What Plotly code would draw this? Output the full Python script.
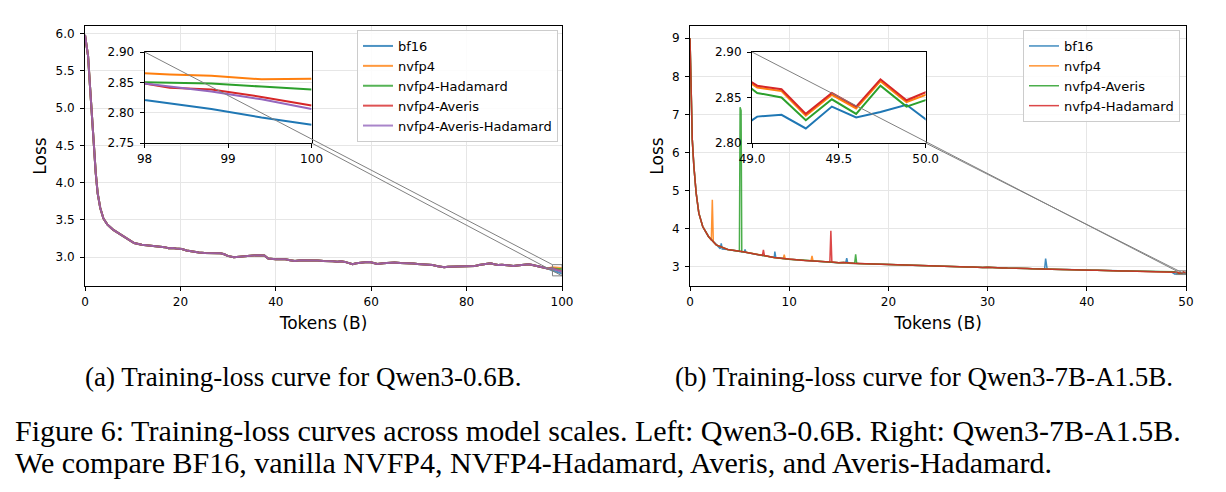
import plotly.graph_objects as go

# ---------------- DATA: left panel (Qwen3-0.6B) ----------------
left_tokens_shared = [0.0, 0.3, 0.64, 1.04, 1.45, 1.85, 2.25, 2.65, 3.2, 3.86, 4.66, 5.86, 7.07, 8.7,
                      10.3, 11.9, 13.1, 14.3, 15.1, 15.9, 16.7, 17.5, 18.3, 19.1, 20.3, 21.3, 22.3,
                      23.1, 23.9, 25.1, 26.3, 27.3, 28.4, 29.2, 29.9, 31.2, 32.4, 33.6, 34.8, 36.0,
                      37.6, 38.4, 40.0, 41.0, 42.0, 43.0, 44.0, 45.2, 46.4, 47.6, 48.8, 50.0, 51.2,
                      52.0, 52.9, 53.7, 54.5, 55.3, 56.1, 56.9, 57.7, 58.7, 59.7, 60.5, 61.3, 62.5,
                      63.7, 64.9, 66.1, 67.3, 68.1, 68.9, 69.7, 70.5, 71.3, 72.1, 72.9, 73.7, 74.5,
                      75.3, 76.1, 76.9, 77.7, 78.6, 79.4, 80.2, 81.0, 81.8, 82.6, 83.4, 84.2, 85.0,
                      85.8, 86.6, 87.4, 88.2, 89.0, 89.8, 90.6, 91.4, 92.2, 93.0, 93.8, 94.6, 95.4,
                      96.2, 97.0]
left_loss_shared = [5.98, 5.85, 5.70, 5.30, 4.89, 4.49, 4.13, 3.86, 3.66, 3.52, 3.44, 3.37, 3.32, 3.26,
                    3.19, 3.166, 3.16, 3.15, 3.145, 3.14, 3.135, 3.12, 3.125, 3.117, 3.11, 3.09, 3.076,
                    3.07, 3.063, 3.058, 3.054, 3.06, 3.054, 3.04, 3.018, 3.0, 3.005, 3.009, 3.02, 3.027,
                    3.022, 2.982, 2.973, 2.978, 2.973, 2.96, 2.95, 2.958, 2.96, 2.952, 2.955, 2.948, 2.95,
                    2.945, 2.94, 2.946, 2.937, 2.925, 2.906, 2.92, 2.928, 2.932, 2.937, 2.925, 2.91, 2.92,
                    2.925, 2.928, 2.922, 2.92, 2.925, 2.915, 2.91, 2.906, 2.91, 2.906, 2.895, 2.883, 2.87,
                    2.865, 2.872, 2.874, 2.878, 2.883, 2.876, 2.879, 2.885, 2.883, 2.895, 2.906, 2.912, 2.92,
                    2.905, 2.897, 2.9, 2.892, 2.888, 2.883, 2.888, 2.892, 2.9, 2.906, 2.895, 2.883, 2.868,
                    2.855, 2.85]
left_tail_tokens = [98.0, 98.3, 98.8, 99.4, 100.0]
left_names = ["bf16", "nvfp4", "nvfp4-Hadamard", "nvfp4-Averis", "nvfp4-Averis-Hadamard"]
left_tail_bf16 = [2.821, 2.815, 2.806, 2.792, 2.780]
left_tail_nvfp4 = [2.865, 2.863, 2.861, 2.855, 2.856]
left_tail_hadamard = [2.850, 2.849, 2.848, 2.843, 2.838]
left_tail_averis = [2.848, 2.841, 2.838, 2.826, 2.812]
left_tail_averis_hadamard = [2.848, 2.843, 2.835, 2.822, 2.806]
left_tails = [left_tail_bf16, left_tail_nvfp4, left_tail_hadamard, left_tail_averis, left_tail_averis_hadamard]

# ---------------- DATA: right panel (Qwen3-7B-A1.5B) ----------------
right_tokens_shared = [0.0, 0.12, 0.23, 0.39, 0.62, 0.89, 1.28, 1.86, 2.64, 3.8, 5.35, 6.9, 8.45,
                       10.0, 10.5, 11.0, 11.5, 12.0, 12.5, 13.0, 13.5, 14.0, 14.5, 15.0, 15.5, 16.0,
                       16.5, 17.0, 17.5, 18.0, 18.5, 19.0, 19.5, 20.0, 20.5, 21.0, 21.5, 22.0, 22.5,
                       23.0, 23.5, 24.0, 24.5, 25.0, 25.5, 26.0, 26.5, 27.0, 27.5, 28.0, 28.5, 29.0,
                       29.5, 30.0, 30.5, 31.0, 31.5, 32.0, 32.5, 33.0, 33.5, 34.0, 34.5, 35.0, 35.5,
                       36.0, 36.5, 37.0, 37.5, 38.0, 38.5, 39.0, 39.5, 40.0, 40.5, 41.0, 41.5, 42.0,
                       42.5, 43.0, 43.5, 44.0, 44.5, 45.0, 45.5, 46.0, 46.5, 47.0, 47.5, 48.0, 48.5]
right_loss_shared = [9.0, 7.4, 6.34, 5.64, 4.94, 4.41, 4.06, 3.80, 3.58, 3.46, 3.40, 3.32, 3.25,
                     3.20, 3.19, 3.185, 3.17, 3.165, 3.155, 3.15, 3.145, 3.13, 3.125, 3.11, 3.115, 3.10,
                     3.095, 3.09, 3.085, 3.08, 3.085, 3.07, 3.065, 3.06, 3.062, 3.05, 3.048, 3.04, 3.045,
                     3.035, 3.03, 3.025, 3.028, 3.02, 3.01, 3.015, 3.005, 3.008, 3.0, 2.998, 3.0, 2.99,
                     2.985, 2.99, 2.98, 2.978, 2.975, 2.97, 2.972, 2.965, 2.96, 2.962, 2.955, 2.95, 2.952,
                     2.945, 2.94, 2.945, 2.935, 2.93, 2.932, 2.925, 2.92, 2.918, 2.915, 2.912, 2.905, 2.908,
                     2.9, 2.898, 2.895, 2.892, 2.89, 2.888, 2.885, 2.882, 2.878, 2.875, 2.872, 2.87, 2.868]
right_tail_tokens = [48.89, 49.03, 49.17, 49.31, 49.46, 49.60, 49.74, 49.89, 50.03]
right_names = ["bf16", "nvfp4", "nvfp4-Averis", "nvfp4-Hadamard"]
right_tail_bf16 = [2.810, 2.829, 2.831, 2.816, 2.840, 2.828, 2.834, 2.842, 2.822]
right_tail_nvfp4 = [2.878, 2.861, 2.857, 2.830, 2.853, 2.838, 2.868, 2.845, 2.855]
right_tail_averis = [2.875, 2.855, 2.850, 2.825, 2.848, 2.832, 2.863, 2.840, 2.849]
right_tail_hadamard = [2.880, 2.863, 2.859, 2.832, 2.855, 2.840, 2.870, 2.847, 2.858]
right_tails = [right_tail_bf16, right_tail_nvfp4, right_tail_averis, right_tail_hadamard]
# loss spikes (token, loss) per series
right_spikes_bf16 = [(3.05, 3.48), (3.15, 3.62), (3.25, 3.47), (5.45, 3.39), (5.55, 3.46), (5.65, 3.38),
                     (8.5, 3.25), (8.55, 3.40), (8.65, 3.245), (15.7, 3.11), (15.8, 3.23), (15.9, 3.108),
                     (35.75, 2.95), (35.85, 3.22), (35.95, 2.95)]
right_spikes_nvfp4 = [(2.15, 3.70), (2.25, 4.76), (2.35, 3.66), (9.4, 3.215), (9.5, 3.32), (9.6, 3.21),
                      (12.2, 3.163), (12.3, 3.29), (12.4, 3.16)]
right_spikes_averis = [(4.98, 3.41), (5.05, 7.19), (5.15, 7.10), (5.22, 3.40),
                       (16.6, 3.097), (16.7, 3.33), (16.8, 3.093)]
right_spikes_hadamard = [(7.3, 3.305), (7.4, 3.45), (7.5, 3.30), (14.1, 3.132), (14.2, 3.95), (14.3, 3.128)]
right_spikes = [right_spikes_bf16, right_spikes_nvfp4, right_spikes_averis, right_spikes_hadamard]

# ---------------- STYLE / LAYOUT ----------------
W, H = 1226, 492
LEFT_COLORS = ["#1f77b4", "#ff7f0e", "#2ca02c", "#d62728", "#9467bd"]
RIGHT_COLORS = ["#1f77b4", "#ff7f0e", "#2ca02c", "#d62728"]
SANS = "DejaVu Sans"
SERIF = "Liberation Serif"
GRID = "#e6e6e6"

def px_dom_x(a, b):
    return [a / W, b / W]

def px_dom_y(top, bottom):
    return [1 - bottom / H, 1 - top / H]

left_dx = px_dom_x(85, 562)
right_dx = px_dom_x(690, 1186)
main_dy = px_dom_y(26, 286)
INSET_FX = (0.125, 0.475)
INSET_FY = (0.55, 0.90)

def inset_dom(dx, dy):
    wx, wy = dx[1] - dx[0], dy[1] - dy[0]
    return ([dx[0] + INSET_FX[0] * wx, dx[0] + INSET_FX[1] * wx],
            [dy[0] + INSET_FY[0] * wy, dy[0] + INSET_FY[1] * wy])

left_ix, left_iy = inset_dom(left_dx, main_dy)
right_ix, right_iy = inset_dom(right_dx, main_dy)

LEFT_XR, LEFT_YR = [0, 100], [2.614, 6.10]
RIGHT_XR, RIGHT_YR = [0, 50], [2.50, 9.32]
LEFT_IXR, LEFT_IYR = [98, 100], [2.75, 2.90]
RIGHT_IXR, RIGHT_IYR = [49, 50], [2.80, 2.90]

fig = go.Figure()

# left panel traces
for name, color, tail in zip(left_names, LEFT_COLORS, left_tails):
    xs = left_tokens_shared + left_tail_tokens
    ys = left_loss_shared + tail
    fig.add_trace(go.Scatter(x=xs, y=ys, mode="lines", name=name, legend="legend",
                             line=dict(color=color, width=2), opacity=0.8,
                             xaxis="x", yaxis="y"))
    fig.add_trace(go.Scatter(x=xs, y=ys, mode="lines", name=name, showlegend=False,
                             line=dict(color=color, width=2), xaxis="x2", yaxis="y2"))

# right panel traces
for name, color, tail, spikes in zip(right_names, RIGHT_COLORS, right_tails, right_spikes):
    pts = list(zip(right_tokens_shared, right_loss_shared)) + spikes + list(zip(right_tail_tokens, tail))
    pts.sort(key=lambda p: p[0])
    xs = [p[0] for p in pts]
    ys = [p[1] for p in pts]
    fig.add_trace(go.Scatter(x=xs, y=ys, mode="lines", name=name, legend="legend2",
                             line=dict(color=color, width=1.5), opacity=0.85,
                             xaxis="x3", yaxis="y3"))
    fig.add_trace(go.Scatter(x=xs, y=ys, mode="lines", name=name, showlegend=False,
                             line=dict(color=color, width=2), xaxis="x4", yaxis="y4"))

tickfont = dict(family=SANS, size=12, color="black")
titlefont = dict(family=SANS, size=17, color="black")

def axis(domain, rng, anchor, dtick=None, fmt=None, title=None, standoff=None, lblpad=2):
    d = dict(domain=domain, range=rng, anchor=anchor, showline=True, mirror=True,
             linecolor="black", linewidth=1, ticks="outside", ticklen=4, tickwidth=1,
             tickcolor="black", showgrid=True, gridcolor=GRID, gridwidth=1, zeroline=False,
             tickfont=tickfont, fixedrange=True, automargin=False, ticklabelstandoff=lblpad)
    if dtick is not None:
        d["dtick"] = dtick
        d["tick0"] = 0
    if fmt:
        d["tickformat"] = fmt
    if title:
        d["title"] = dict(text=title, font=titlefont, standoff=standoff)
    return d

fig.update_layout(
    width=W, height=H, margin=dict(l=0, r=0, t=0, b=0, autoexpand=False),
    paper_bgcolor="white", plot_bgcolor="white",
    xaxis=axis(left_dx, LEFT_XR, "y", dtick=20, title="Tokens (B)", standoff=8, lblpad=1),
    yaxis=axis(main_dy, LEFT_YR, "x", dtick=0.5, fmt=".1f", title="Loss", standoff=4, lblpad=3),
    xaxis2=axis(left_ix, LEFT_IXR, "y2", dtick=1, lblpad=1),
    yaxis2=axis(left_iy, LEFT_IYR, "x2", dtick=0.05, fmt=".2f", lblpad=3),
    xaxis3=axis(right_dx, RIGHT_XR, "y3", dtick=10, title="Tokens (B)", standoff=8, lblpad=1),
    yaxis3=axis(main_dy, RIGHT_YR, "x3", dtick=1, title="Loss", standoff=4, lblpad=3),
    xaxis4=axis(right_ix, RIGHT_IXR, "y4", dtick=0.5, fmt=".1f", lblpad=1),
    yaxis4=axis(right_iy, RIGHT_IYR, "x4", dtick=0.05, fmt=".2f", lblpad=3),
    legend=dict(x=558 / W, xanchor="right", y=1 - 30 / H, yanchor="top",
                bgcolor="rgba(255,255,255,0.85)", bordercolor="#cccccc", borderwidth=1,
                font=dict(family=SANS, size=13, color="black"), tracegroupgap=0),
    legend2=dict(x=1180 / W, xanchor="right", y=1 - 30 / H, yanchor="top",
                 bgcolor="rgba(255,255,255,0.85)", bordercolor="#cccccc", borderwidth=1,
                 font=dict(family=SANS, size=13, color="black"), tracegroupgap=0),
)

# zoom rectangles and connector lines (mark_inset style)
def mark_inset(xref, yref, xr, yr, ixr, iyr):
    fx = lambda v: (v - xr[0]) / (xr[1] - xr[0])
    fy = lambda v: (v - yr[0]) / (yr[1] - yr[0])
    gray = dict(color="#808080", width=1)
    fig.add_shape(type="rect", xref=xref, yref=yref, x0=ixr[0], x1=ixr[1], y0=iyr[0], y1=iyr[1],
                  line=gray, layer="above")
    fig.add_shape(type="line", xref=xref + " domain", yref=yref + " domain",
                  x0=INSET_FX[0], y0=INSET_FY[1], x1=fx(ixr[0]), y1=fy(iyr[1]), line=gray, layer="above")
    fig.add_shape(type="line", xref=xref + " domain", yref=yref + " domain",
                  x0=INSET_FX[1], y0=INSET_FY[0], x1=fx(ixr[1]), y1=fy(iyr[0]), line=gray, layer="above")

mark_inset("x", "y", LEFT_XR, LEFT_YR, LEFT_IXR, LEFT_IYR)
mark_inset("x3", "y3", RIGHT_XR, RIGHT_YR, RIGHT_IXR, RIGHT_IYR)

# captions
captions = [
    ("(a) Training-loss curve for Qwen3-0.6B.", 303 / W, 1 - 377 / H, "center", 27),
    ("(b) Training-loss curve for Qwen3-7B-A1.5B.", 924 / W, 1 - 377 / H, "center", 27),
    ("Figure 6: Training-loss curves across model scales. Left: Qwen3-0.6B. Right: Qwen3-7B-A1.5B.",
     14 / W, 1 - 430 / H, "left", 30),
    ("We compare BF16, vanilla NVFP4, NVFP4-Hadamard, Averis, and Averis-Hadamard.",
     14 / W, 1 - 462 / H, "left", 30),
]
for text, x, y, anchor, size in captions:
    fig.add_annotation(text=text, x=x, y=y, xref="paper", yref="paper", xanchor=anchor,
                       yanchor="middle", showarrow=False, borderpad=0,
                       font=dict(family=SERIF, size=size, color="black"))

fig.write_html("out.html")
